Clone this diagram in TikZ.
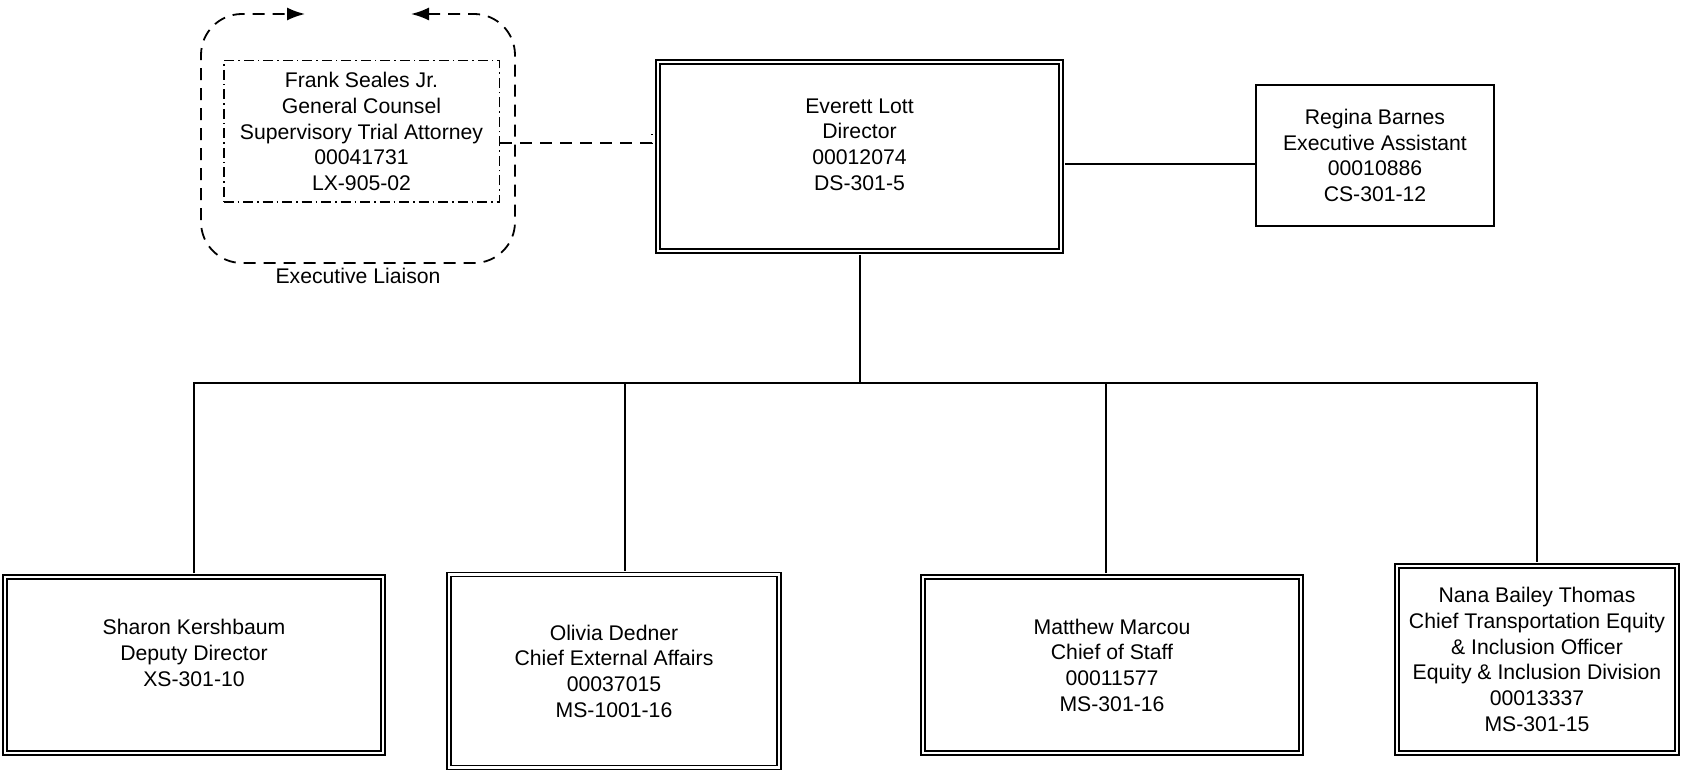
\documentclass[tikz,border=0pt]{standalone}
\usepackage{fontspec}
\setmainfont{Liberation Sans}
\usetikzlibrary{arrows.meta, calc}

\begin{document}
\begin{tikzpicture}[
  x=0.5pt, y=-0.5pt,
  %% ── box styles ───────────────────────────────────────────────────────────
  box/.style    = {rectangle, draw, inner sep=0pt, align=center,
                   font=\fontsize{10.6pt}{12.85pt}\selectfont},
  dbox/.style   = {box, double, line width=0.85pt, double distance=1.2pt},
  sbox/.style   = {box, line width=1pt},
  dotbox/.style = {box, line width=0.8pt,
                   dash pattern=on 5pt off 2pt on 0.75pt off 2pt},
  raised/.style = {text depth=12pt},
  %% ── line / label styles ──────────────────────────────────────────────────
  conn/.style    = {line width=1pt},
  liaison/.style = {line width=0.9pt, dash pattern=on 6pt off 4pt},
  tip/.style     = {{Latex[length=9pt,width=6.5pt]}-{Latex[length=9pt,width=6.5pt]}},
  lab/.style     = {font=\fontsize{10.6pt}{12.85pt}\selectfont},
]
\useasboundingbox (0,0) rectangle (1682,770);

%% ═══════════════════════════════════════════════════════════════════════════
%% TOP ROW: liaison, director, assistant
%% ═══════════════════════════════════════════════════════════════════════════
\node[dotbox, minimum width=137.8pt, minimum height=70.8pt] (frank) at (361.5,131.5)
      {Frank Seales Jr.\\General Counsel\\Supervisory Trial Attorney\\00041731\\LX-905-02};
\node[dbox, raised, minimum width=201.6pt, minimum height=94.6pt] (dir) at (859.5,156.5)
      {Everett Lott\\Director\\00012074\\DS-301-5};
\node[sbox, minimum width=119pt, minimum height=70.5pt] (reg) at (1375,155.5)
      {Regina Barnes\\Executive Assistant\\00010886\\CS-301-12};

%% ── liaison frame round the counsel box ──────────────────────────────────
\draw[liaison, tip, rounded corners=20.5pt]
      (411,14) -- (515,14) -- (515,263) -- (201,263) -- (201,14) -- (305,14);
\node[lab] (liaisonlab) at (358,276) {Executive Liaison};

%% ═══════════════════════════════════════════════════════════════════════════
%% BOTTOM ROW (direct reports)
%% ═══════════════════════════════════════════════════════════════════════════
\node[dbox, raised, minimum width=189.1pt, minimum height=88.1pt] (sharon) at (194,665)
      {Sharon Kershbaum\\Deputy Director\\XS-301-10};
\node[dbox, minimum width=165.1pt, minimum height=96.6pt] (olivia) at (614,671)
      {Olivia Dedner\\Chief External Affairs\\00037015\\MS-1001-16};
\node[dbox, minimum width=189.1pt, minimum height=88.1pt] (matthew) at (1112,665)
      {Matthew Marcou\\Chief of Staff\\00011577\\MS-301-16};
\node[dbox, minimum width=140.1pt, minimum height=93.6pt] (nana) at (1537,659.5)
      {Nana Bailey Thomas\\Chief Transportation Equity\\\& Inclusion Officer\\Equity \& Inclusion Division\\00013337\\MS-301-15};

%% ── connector points ──────────────────────────────────────────────────────
\coordinate (bus)      at (859.5,383);
\coordinate (dirR)     at ($(dir.east)+(0,7.5)$);
\coordinate (frankR)   at ($(frank.east)+(0,11.5)$);
\coordinate (dirL)     at ($(dir.west)+(-5,-22.5)$);
\coordinate (oliviaT)  at ($(olivia.north)+(11,0)$);
\coordinate (matthewT) at ($(matthew.north)+(-6,0)$);

%% ── connectors ────────────────────────────────────────────────────────────
\draw[liaison] (frankR) -| (dirL);
\draw[conn, shorten <=1.45pt] (dirR) -- (dirR -| reg.west);
\draw[conn, shorten <=1.45pt] (dir.south) -- (bus);
\draw[conn, shorten <=1.45pt, shorten >=1.45pt] (sharon.north) |- (bus) -| (nana.north);
\draw[conn, shorten <=1.45pt] (oliviaT) -- (oliviaT |- bus);
\draw[conn, shorten <=1.45pt] (matthewT) -- (matthewT |- bus);

\end{tikzpicture}
\end{document}
